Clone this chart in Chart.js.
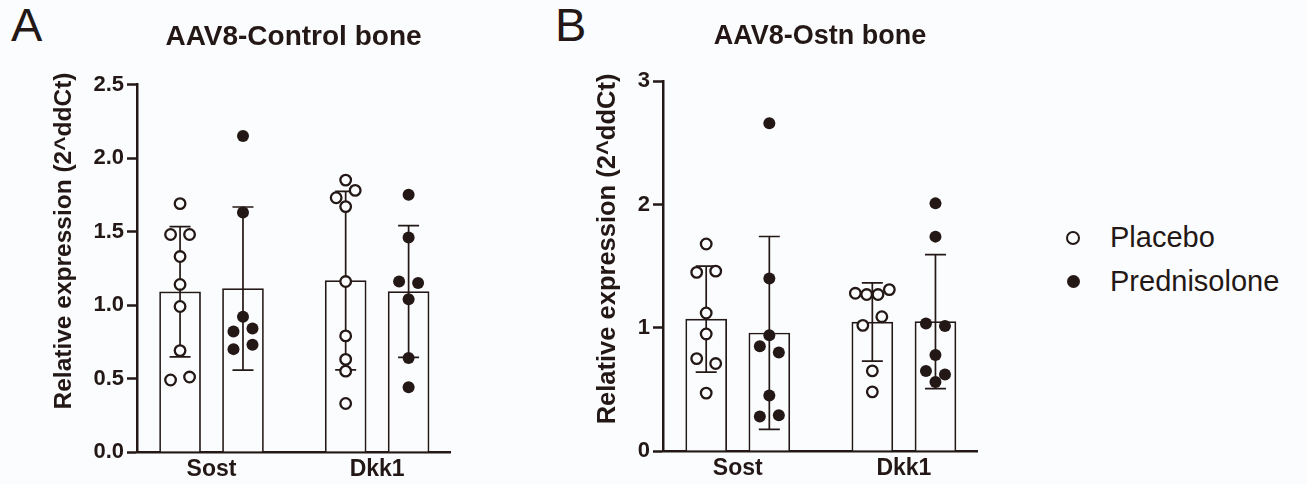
<!DOCTYPE html>
<html lang="en">
<head>
<meta charset="UTF-8">
<title>AAV8 bone expression</title>
<script src="https://cdn.jsdelivr.net/npm/chart.js@4"></script>
<style>
  body {
    margin: 0;
    width: 1307px;
    height: 484px;
    position: relative;
    overflow: hidden;
    background: #fbfcfe;
    color: #231815;
    font-family: "Liberation Sans", Arial, sans-serif;
  }
  canvas { position: absolute; top: 0; }
  #chart-a { left: 0; }
  #chart-b { left: 540px; }
  .letter { position: absolute; top: 1px; font-size: 47px; line-height: 47px; }
  .legend-item { position: absolute; left: 1110px; font-size: 29px; line-height: 29px; white-space: nowrap; }
  .dot { position: absolute; border-radius: 50%; box-sizing: border-box; }
</style>
</head>
<body>
  <div class="letter" style="left:11px">A</div>
  <div class="letter" style="left:555px">B</div>
  <canvas id="chart-a" width="520" height="484"></canvas>
  <canvas id="chart-b" width="520" height="484"></canvas>

  <div class="dot" style="left:1066px;top:231px;width:14px;height:14px;border:2.3px solid #231815;background:#fbfcfe"></div>
  <div class="legend-item" style="top:223px">Placebo</div>
  <div class="dot" style="left:1067px;top:275px;width:13px;height:13px;background:#231815"></div>
  <div class="legend-item" style="top:267px">Prednisolone</div>

<script>
const ink = '#231815';
const paper = '#fbfcfe';

const categories = ['Sost', 'Dkk1'];

// A: AAV8-Control bone
const ctrlPlaceboMean = [1.09, 1.166];
const ctrlPlaceboSd = [0.443, 0.607];
const ctrlPredMean = [1.112, 1.092];
const ctrlPredSd = [0.555, 0.448];
const ctrlPlaceboPoints = [
    [1.69, 1.48, 1.48, 1.33, 1.14, 0.99, 0.69, 0.49, 0.51],
    [1.85, 1.73, 1.78, 1.67, 1.16, 0.79, 0.63, 0.55, 0.33]
];
const ctrlPredPoints = [
    [2.15, 1.63, 0.92, 0.82, 0.84, 0.70, 0.73],
    [1.75, 1.46, 1.16, 1.15, 1.04, 0.64, 0.44]
];

// B: AAV8-Ostn bone
const ostnPlaceboMean = [1.07, 1.047];
const ostnPlaceboSd = [0.43, 0.317];
const ostnPredMean = [0.958, 1.05];
const ostnPredSd = [0.783, 0.544];
const ostnPlaceboPoints = [
    [1.68, 1.45, 1.46, 1.12, 0.95, 0.75, 0.71, 0.47],
    [1.28, 1.27, 1.27, 1.31, 1.02, 1.09, 0.65, 0.48]
];
const ostnPredPoints = [
    [2.66, 1.40, 0.94, 0.85, 0.80, 0.45, 0.28, 0.29],
    [2.01, 1.74, 1.035, 1.015, 0.78, 0.65, 0.62, 0.56]
];

const barOffset = 0.19;

// draws mean +/- SD after each bar dataset, before the dots
const errorBars = {
    id: 'errorBars',
    afterDatasetDraw(chart, args) {
        const ds = chart.data.datasets[args.index];
        if (!ds.sd) return;
        const { ctx, scales: { x, y } } = chart;
        ctx.save();
        ctx.strokeStyle = ink;
        ctx.lineWidth = 1.7;
        ds.data.forEach((d, i) => {
            const px = x.getPixelForValue(d.x);
            const top = y.getPixelForValue(d.y + ds.sd[i]);
            const bot = y.getPixelForValue(d.y - ds.sd[i]);
            ctx.beginPath();
            ctx.moveTo(px, top); ctx.lineTo(px, bot);
            ctx.moveTo(px - 10.5, top); ctx.lineTo(px + 10.5, top);
            ctx.moveTo(px - 10.5, bot); ctx.lineTo(px + 10.5, bot);
            ctx.stroke();
        });
        ctx.restore();
    }
};

const yTitle = {
    id: 'yTitle',
    afterDraw(chart, args, opts) {
        const ctx = chart.ctx;
        ctx.save();
        ctx.translate(opts.x, opts.y);
        ctx.rotate(-Math.PI / 2);
        ctx.font = 'bold ' + opts.size + 'px "Liberation Sans", Arial, sans-serif';
        ctx.fillStyle = ink;
        ctx.textAlign = 'center';
        ctx.textBaseline = 'middle';
        ctx.fillText(opts.text, 0, 0);
        ctx.restore();
    }
};

// spread dots sideways when they sit at nearly the same height
function swarm(values, center, xScale, yScale) {
    const order = values.map((v, i) => i).sort((a, b) => values[b] - values[a]);
    const rows = [];
    order.forEach(i => {
        const py = yScale.getPixelForValue(values[i]);
        const row = rows[rows.length - 1];
        if (row && Math.abs(py - row.py) < 10) row.items.push(i);
        else rows.push({ py, items: [i] });
    });
    const cx = xScale.getPixelForValue(center);
    const out = values.map(v => ({ x: center, y: v }));
    rows.forEach(r => {
        r.items.sort((a, b) => a - b);
        const n = r.items.length;
        const step = n > 1 ? Math.min(19, 34 / (n - 1)) : 0;
        r.items.forEach((i, k) => {
            out[i].x = xScale.getValueForPixel(cx + (k - (n - 1) / 2) * step);
        });
    });
    return out;
}

const makePanel = (id, p) => {
    const barSet = (means, sd, shift) => ({
        type: 'bar',
        data: means.map((m, i) => ({ x: i + 1 + shift, y: m })),
        sd,
        backgroundColor: paper,
        borderColor: ink,
        borderWidth: 1.7,
        barThickness: 41,
        grouped: false,
        order: 2
    });
    const dotSets = (groups, shift, filled) => groups.map((vals, i) => ({
        type: 'scatter',
        data: vals.map(v => ({ x: i + 1 + shift, y: v })),
        pointRadius: filled ? 6 : 5.3,
        pointBorderWidth: filled ? 0 : 2.3,
        pointBackgroundColor: filled ? ink : paper,
        pointBorderColor: ink,
        order: 1
    }));

    const chart = new Chart(document.getElementById(id), {
        type: 'bar',
        data: {
            datasets: [
                barSet(p.placeboMean, p.placeboSd, -barOffset),
                barSet(p.predMean, p.predSd, barOffset),
                ...dotSets(p.placeboPoints, -barOffset, false),
                ...dotSets(p.predPoints, barOffset, true)
            ]
        },
        options: {
            responsive: false,
            animation: false,
            layout: { padding: { top: 0, left: 0, right: p.padRight, bottom: 0 } },
            scales: {
                x: {
                    type: 'linear',
                    min: 0.55,
                    max: 2.44,
                    offset: false,
                    afterBuildTicks: s => { s.ticks = categories.map((c, i) => ({ value: i + 1 })); },
                    afterFit: s => { s.height = p.xHeight; },
                    ticks: {
                        callback: v => categories[Math.round(v) - 1],
                        color: ink,
                        padding: 4,
                        font: { family: '"Liberation Sans", Arial', weight: 'bold', size: 23 }
                    },
                    grid: { drawOnChartArea: false, drawTicks: false },
                    border: { display: true, color: ink, width: 2.5 }
                },
                y: {
                    min: 0,
                    max: p.yMax,
                    afterFit: s => { s.width = p.yWidth; },
                    ticks: {
                        stepSize: p.yStep,
                        callback: p.yLabel,
                        color: ink,
                        padding: 3,
                        font: { family: '"Liberation Sans", Arial', weight: 'bold', size: 22 }
                    },
                    grid: { drawOnChartArea: false, tickLength: 10, color: ink, tickColor: ink, tickWidth: 2.5 },
                    border: { display: true, color: ink, width: 2.5 }
                }
            },
            plugins: {
                legend: { display: false },
                tooltip: { enabled: false },
                title: {
                    display: true,
                    fullSize: false,
                    text: p.title,
                    color: ink,
                    font: { family: '"Liberation Sans", Arial', weight: 'bold', size: p.titleSize, lineHeight: 1.2 },
                    padding: { top: 20, bottom: p.titleGap }
                },
                yTitle: { text: 'Relative expression (2^ddCt)', x: p.yTitleX, y: p.yTitleY, size: p.yTitleSize }
            }
        },
        plugins: [errorBars, yTitle]
    });

    // second pass: place the dots now that the scales exist
    const x = chart.scales.x, y = chart.scales.y;
    const all = [p.placeboPoints, p.predPoints];
    all.forEach((groups, g) => {
        groups.forEach((vals, i) => {
            const ds = chart.data.datasets[2 + g * groups.length + i];
            ds.data = swarm(vals, i + 1 + (g ? barOffset : -barOffset), x, y);
        });
    });
    chart.update('none');
    return chart;
};

makePanel('chart-a', {
    title: 'AAV8-Control bone', titleSize: 28,
    placeboMean: ctrlPlaceboMean, placeboSd: ctrlPlaceboSd,
    predMean: ctrlPredMean, predSd: ctrlPredSd,
    placeboPoints: ctrlPlaceboPoints, predPoints: ctrlPredPoints,
    yMax: 2.5, yStep: 0.5, yLabel: v => v.toFixed(1),
    yWidth: 137, padRight: 70, xHeight: 32, titleGap: 31,
    yTitleX: 64, yTitleY: 241, yTitleSize: 24.5
});

makePanel('chart-b', {
    title: 'AAV8-Ostn bone', titleSize: 27,
    placeboMean: ostnPlaceboMean, placeboSd: ostnPlaceboSd,
    predMean: ostnPredMean, predSd: ostnPredSd,
    placeboPoints: ostnPlaceboPoints, predPoints: ostnPredPoints,
    yMax: 3, yStep: 1, yLabel: v => v,
    yWidth: 123, padRight: 83, xHeight: 33, titleGap: 29,
    yTitleX: 68, yTitleY: 249, yTitleSize: 25.5
});
</script>
</body>
</html>
